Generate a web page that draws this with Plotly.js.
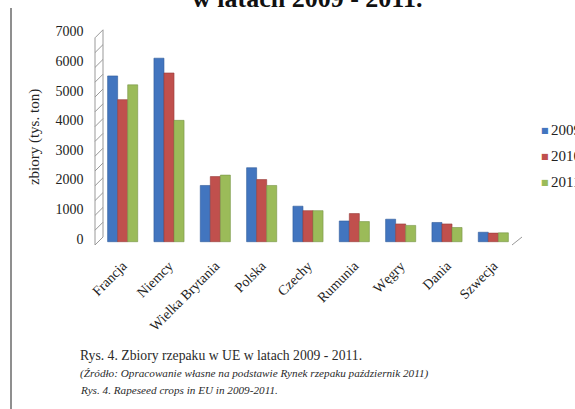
<!DOCTYPE html>
<html><head><meta charset="utf-8">
<script src="https://cdn.plot.ly/plotly-3.0.1.min.js"></script>
<style>html,body{margin:0;padding:0;background:#fff}#chart{width:575px;height:409px}</style>
</head><body><div id="chart"></div>
<script>
// ---- data ----
const countries = ['Francja','Niemcy','Wielka Brytania','Polska','Czechy','Rumunia','Węgry','Dania','Szwecja'];
const years = ['2009','2010','2011'];
const crop2009 = [5600,6200,1900,2500,1200,700,760,650,320];
const crop2010 = [4800,5700,2200,2100,1050,950,600,600,290];
const crop2011 = [5300,4100,2250,1900,1050,680,550,480,300];
const yTickVals = [0,1000,2000,3000,4000,5000,6000,7000];
const gridStep = 500;
const yMax = 7000;
const titleText = 'w latach 2009 - 2011.';
const yTitle = 'zbiory (tys. ton)';
const captionLines = [
  'Rys. 4. Zbiory rzepaku w UE w latach 2009 - 2011.',
  '<i>(Źródło: Opracowanie własne na podstawie Rynek rzepaku październik 2011)</i>',
  '<i>Rys. 4. Rapeseed crops in EU in 2009-2011.</i>'
];

// ---- style ----
const colors = ['#4275BF','#C0504D','#9BBB59'];
const edges = ['#2F5A99','#963C3A','#779446'];
const W = 575, TOP = 28, BOT = 246, PH = BOT - TOP;
const px = x => x / W;
const py = p => (BOT - p) / PH;
const serif = 'Liberation Serif, Times New Roman, serif';
const FRONT = -111, BACK = 159; // depth offsets (axis units) for the 3D wall look

const series = [crop2009, crop2010, crop2011];
const traces = series.map((vals, i) => ({
  type: 'bar', x: countries, y: vals, name: years[i],
  xaxis: 'x2', yaxis: 'y2',
  marker: {color: colors[i], line: {color: edges[i], width: 0.6}},
  showlegend: false, hoverinfo: 'x+y+name'
}));

const shapes = [];
shapes.push({type:'line', xref:'paper', yref:'paper', x0:px(11), x1:px(11), y0:py(8), y1:py(409), line:{color:'#6a6a6a', width:1.5}});
shapes.push({type:'line', xref:'paper', yref:'y2', x0:px(95), x1:px(95), y0:FRONT, y1:yMax+FRONT, line:{color:'#999', width:1}});
shapes.push({type:'line', xref:'paper', yref:'y2', x0:px(103), x1:px(103), y0:BACK, y1:yMax+BACK, line:{color:'#999', width:1}});
for (let v = 0; v <= yMax; v += gridStep) {
  shapes.push({type:'line', xref:'paper', yref:'y2', x0:px(95), x1:px(103), y0:v+FRONT, y1:v+BACK, line:{color:'#999', width:1}});
}
shapes.push({type:'line', xref:'paper', yref:'y2', x0:px(512), x1:px(522), y0:FRONT, y1:BACK, line:{color:'#999', width:1}});

const annotations = [];
annotations.push({xref:'paper', yref:'paper', x:px(307), y:py(15), xanchor:'center', yanchor:'bottom', showarrow:false,
  text:'<b>'+titleText+'</b>', font:{family:serif, size:26, color:'#111'}});
const capY = [356, 373, 390];
const capSize = [13.7, 11.2, 11.2];
captionLines.forEach((t, i) => annotations.push({xref:'paper', yref:'paper', x:px(78), y:py(capY[i]), xanchor:'left', yanchor:'middle',
  showarrow:false, text:t, font:{family:serif, size:capSize[i], color:'#2a2a2a'}}));
const legY = [130, 156, 182];
years.forEach((yr, i) => {
  annotations.push({xref:'paper', yref:'paper', x:px(545), y:py(legY[i]), xanchor:'center', yanchor:'middle', showarrow:false,
    text:'■', font:{family:'DejaVu Sans', size:8, color:colors[i]}});
  annotations.push({xref:'paper', yref:'paper', x:px(549), y:py(legY[i]), xanchor:'left', yanchor:'middle', showarrow:false,
    text:yr, font:{family:serif, size:15, color:'#222'}});
});

const layout = {
  width: 575, height: 409,
  margin: {l:0, r:0, t:TOP, b:409-BOT, autoexpand:false},
  paper_bgcolor:'#fff', plot_bgcolor:'rgba(0,0,0,0)',
  barmode:'group', bargap:0.35, bargroupgap:0,
  font:{family:serif, color:'#222'},
  xaxis:{domain:[px(103), px(522)], range:[0,1], showgrid:false, zeroline:false, showticklabels:false, ticks:'', showline:false, anchor:'y'},
  yaxis:{domain:[0,1], range:[-304, 7061], dtick:gridStep, tick0:0, showgrid:true, gridcolor:'#9a9a9a', gridwidth:1,
    zeroline:false, showticklabels:false, ticks:'', showline:false, anchor:'x'},
  xaxis2:{domain:[px(99.5), px(516.5)], type:'category', anchor:'y2', tickangle:-45, ticks:'', showline:false, showgrid:false,
    tickfont:{family:serif, size:14, color:'#222'}, ticklabelstandoff:8},
  yaxis2:{domain:[0,1], range:[-145, 7220], anchor:'x2', showgrid:false, zeroline:false, showline:false,
    tickvals:yTickVals, ticks:'', tickfont:{family:serif, size:14, color:'#222'}, ticklabelshift:-3, ticklabelstandoff:15,
    title:{text:yTitle, font:{family:serif, size:15, color:'#222'}, standoff:12}},
  xaxis3:{domain:[px(95), px(512)], range:[0, countries.length], anchor:'y2', tickvals:countries.map((c,i)=>i).concat([countries.length]),
    ticks:'outside', ticklen:4, tickcolor:'#999', showticklabels:false, showline:true, linecolor:'#999', linewidth:1, showgrid:false, zeroline:false},
  shapes, annotations
};

Plotly.newPlot('chart', traces, layout, {displayModeBar:false, staticPlot:true});
</script></body></html>
